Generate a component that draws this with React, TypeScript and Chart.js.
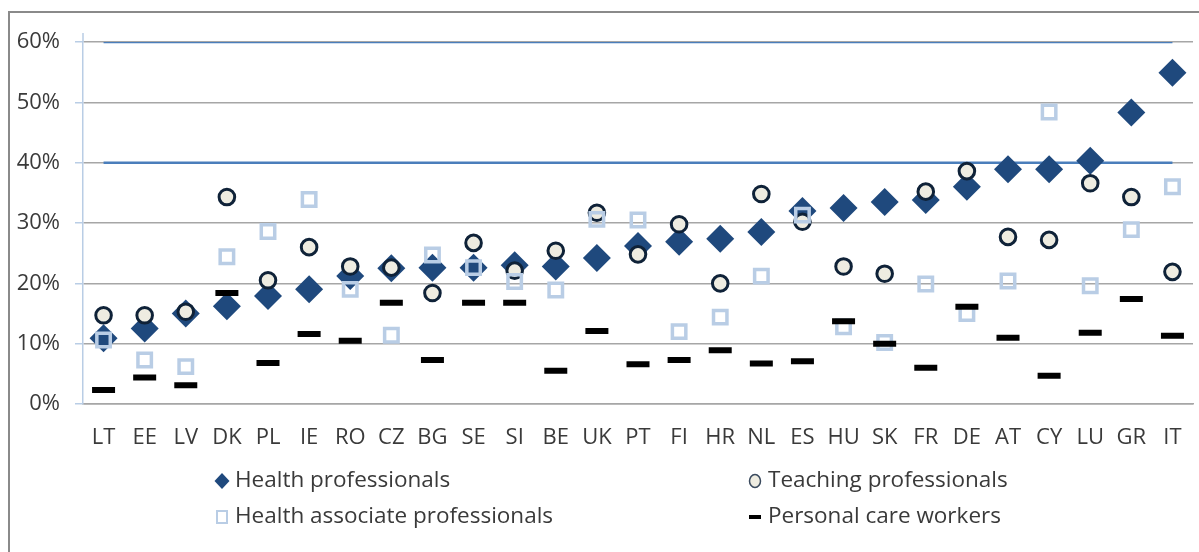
import React, { useEffect, useRef } from 'react';
import { Chart, registerables } from 'chart.js';

Chart.register(...registerables);

const categories = ['LT', 'EE', 'LV', 'DK', 'PL', 'IE', 'RO', 'CZ', 'BG', 'SE', 'SI', 'BE', 'UK', 'PT', 'FI', 'HR', 'NL', 'ES', 'HU', 'SK', 'FR', 'DE', 'AT', 'CY', 'LU', 'GR', 'IT'];

const healthProfessionals = [10.9, 12.5, 15.0, 16.2, 17.9, 19.0, 21.2, 22.5, 22.6, 22.6, 23.0, 22.8, 24.2, 26.2, 26.9, 27.4, 28.5, 32.0, 32.5, 33.5, 33.8, 36.0, 38.9, 38.9, 40.3, 48.3, 54.9];
const teachingProfessionals = [14.7, 14.7, 15.3, 34.3, 20.5, 26.0, 22.8, 22.6, 18.4, 26.7, 22.1, 25.4, 31.7, 24.8, 29.8, 20.0, 34.8, 30.2, 22.8, 21.6, 35.2, 38.6, 27.7, 27.2, 36.6, 34.3, 21.9];
const healthAssociateProfessionals = [10.6, 7.3, 6.2, 24.4, 28.6, 33.9, 19.0, 11.4, 24.7, 22.6, 20.3, 18.9, 30.6, 30.5, 12.0, 14.4, 21.2, 31.3, 12.8, 10.2, 19.9, 15.0, 20.4, 48.4, 19.6, 28.9, 36.0];
const personalCareWorkers = [2.3, 4.4, 3.1, 18.4, 6.8, 11.6, 10.5, 16.8, 7.3, 16.8, 16.8, 5.5, 12.1, 6.6, 7.3, 8.9, 6.7, 7.1, 13.7, 10.0, 6.0, 16.1, 11.0, 4.7, 11.8, 17.4, 11.3];

const referenceLow = [{ x: 'LT', y: 40 }, { x: 'IT', y: 40 }];
const referenceHigh = [{ x: 'LT', y: 60 }, { x: 'IT', y: 60 }];

const yTicks = [0, 10, 20, 30, 40, 50, 60];

const FONT = '"Open Sans"';
const FONT_SIZE = 22;
const LEGEND_FONT_SIZE = 22.5;
const TEXT = '#3a3a3a';
const C_HEALTH = '#1f497d';
const C_TEACH_BORDER = '#0f2238';
const C_TEACH_FILL = '#eeece1';
const C_ASSOC = '#b9cde5';
const C_CARE = '#000000';
const C_REF = '#4a7ebb';

type LegendItem = { text: string; kind: string; x: number; y: number };
const legendItems: LegendItem[] = [
  { text: 'Health professionals', kind: 'diamond', x: 222, y: 481 },
  { text: 'Teaching professionals', kind: 'circle', x: 755, y: 481 },
  { text: 'Health associate professionals', kind: 'square', x: 222, y: 517 },
  { text: 'Personal care workers', kind: 'dash', x: 755, y: 517 },
];

const axisExtensionPlugin = {
  id: 'axisExtension',
  beforeDatasetsDraw(chart: any) {
    const { ctx, chartArea } = chart;
    ctx.save();
    ctx.strokeStyle = C_ASSOC;
    ctx.lineWidth = 1.5;
    ctx.beginPath();
    ctx.moveTo(chartArea.left, chartArea.top - 9);
    ctx.lineTo(chartArea.left, chartArea.top);
    ctx.stroke();
    ctx.restore();
  },
};

const legendPlugin = {
  id: 'gridLegend',
  afterDraw(chart: any) {
    const ctx = chart.ctx as CanvasRenderingContext2D;
    ctx.save();
    for (const it of legendItems) {
      const { x, y } = it;
      ctx.beginPath();
      if (it.kind === 'diamond') {
        ctx.moveTo(x - 7.5, y);
        ctx.lineTo(x, y - 8);
        ctx.lineTo(x + 7.5, y);
        ctx.lineTo(x, y + 8);
        ctx.closePath();
        ctx.fillStyle = C_HEALTH;
        ctx.fill();
      } else if (it.kind === 'circle') {
        ctx.ellipse(x, y, 5.5, 6.5, 0, 0, Math.PI * 2);
        ctx.fillStyle = C_TEACH_FILL;
        ctx.fill();
        ctx.lineWidth = 1.5;
        ctx.strokeStyle = '#3a4a5e';
        ctx.stroke();
      } else if (it.kind === 'square') {
        ctx.rect(x - 5, y - 6, 10, 12);
        ctx.lineWidth = 2;
        ctx.strokeStyle = C_ASSOC;
        ctx.stroke();
      } else {
        ctx.rect(x - 6, y - 2, 12, 4);
        ctx.fillStyle = C_CARE;
        ctx.fill();
      }
      ctx.font = `${LEGEND_FONT_SIZE}px ${FONT}`;
      ctx.fillStyle = TEXT;
      ctx.textAlign = 'left';
      ctx.textBaseline = 'middle';
      ctx.fillText(it.text, x + 13, y);
    }
    ctx.restore();
  },
};

export default function App() {
  const ref = useRef<HTMLCanvasElement | null>(null);

  useEffect(() => {
    let chart: Chart | null = null;
    let cancelled = false;
    const make = () => {
      if (cancelled || !ref.current) return;
      chart = new Chart(ref.current, {
        type: 'line',
        data: {
          labels: categories,
          datasets: [
            {
              label: 'Personal care workers',
              data: personalCareWorkers,
              showLine: false,
              pointStyle: 'line',
              pointRadius: 11.5,
              pointHoverRadius: 11.5,
              pointBorderWidth: 6,
              borderColor: C_CARE,
              backgroundColor: C_CARE,
              order: 0,
            },
            {
              label: 'Health associate professionals',
              data: healthAssociateProfessionals,
              showLine: false,
              pointStyle: 'rect',
              pointRadius: 9.5,
              pointHoverRadius: 9.5,
              pointBorderWidth: 3.5,
              borderColor: C_ASSOC,
              backgroundColor: 'rgba(0,0,0,0)',
              order: 1,
            },
            {
              label: 'Teaching professionals',
              data: teachingProfessionals,
              showLine: false,
              pointStyle: 'circle',
              pointRadius: 7.8,
              pointHoverRadius: 7.8,
              pointBorderWidth: 3,
              borderColor: C_TEACH_BORDER,
              backgroundColor: C_TEACH_FILL,
              order: 2,
            },
            {
              label: 'Health professionals',
              data: healthProfessionals,
              showLine: false,
              pointStyle: 'rectRot',
              pointRadius: 14,
              pointHoverRadius: 14,
              pointBorderWidth: 0,
              borderColor: C_HEALTH,
              backgroundColor: C_HEALTH,
              order: 3,
            },
            {
              label: 'ref40',
              data: referenceLow as any,
              borderColor: C_REF,
              borderWidth: 2.5,
              pointRadius: 0,
              fill: false,
              order: 4,
            },
            {
              label: 'ref60',
              data: referenceHigh as any,
              borderColor: C_REF,
              borderWidth: 2.5,
              pointRadius: 0,
              fill: false,
              order: 4,
            },
          ],
        },
        options: {
          animation: false,
          responsive: false,
          maintainAspectRatio: false,
          events: [],
          layout: { autoPadding: false, padding: { left: 0, right: 6, top: 42, bottom: 0 } },
          plugins: {
            legend: { display: false },
            tooltip: { enabled: false },
            title: { display: false },
          },
          scales: {
            x: {
              type: 'category',
              offset: true,
              grid: { display: false, drawTicks: false },
              border: { display: true, color: '#a6a6a6', width: 1.5 },
              ticks: {
                autoSkip: false,
                maxRotation: 0,
                minRotation: 0,
                padding: 21,
                color: TEXT,
                font: { family: FONT, size: FONT_SIZE },
              },
              afterFit: (scale: any) => {
                scale.height = 148;
                scale.paddingLeft = 0;
                scale.paddingRight = 0;
              },
            },
            y: {
              min: 0,
              max: 60,
              afterBuildTicks: (scale: any) => {
                scale.ticks = yTicks.map((v) => ({ value: v }));
              },
              grid: {
                color: '#a6a6a6',
                lineWidth: 1.5,
                tickLength: 8,
                tickColor: C_ASSOC,
                tickWidth: 1.5,
              },
              border: { display: true, color: C_ASSOC, width: 1.5 },
              ticks: {
                padding: 15,
                color: TEXT,
                font: { family: FONT, size: FONT_SIZE },
                callback: (v: any) => `${v}%`,
              },
              afterFit: (scale: any) => {
                scale.width = 83;
                scale.paddingTop = 0;
                scale.paddingBottom = 0;
              },
            },
          },
        },
        plugins: [axisExtensionPlugin, legendPlugin],
      });
    };
    const fontsReady = (document as any).fonts?.load
      ? Promise.all([(document as any).fonts.load(`${FONT_SIZE}px ${FONT}`)]).catch(() => null)
      : Promise.resolve(null);
    fontsReady.then(make);
    return () => {
      cancelled = true;
      if (chart) chart.destroy();
    };
  }, []);

  return (
    <div style={{ position: 'absolute', left: 0, top: 0, width: 1199, height: 552, overflow: 'hidden', background: '#ffffff' }}>
      <div
        style={{
          position: 'absolute',
          left: 8,
          top: 11,
          width: 1300,
          height: 600,
          borderLeft: '2px solid #8a8a8a',
          borderTop: '2px solid #8a8a8a',
          boxSizing: 'border-box',
        }}
      />
      <canvas ref={ref} width={1199} height={552} style={{ position: 'absolute', left: 0, top: 0, width: 1199, height: 552 }} />
    </div>
  );
}
